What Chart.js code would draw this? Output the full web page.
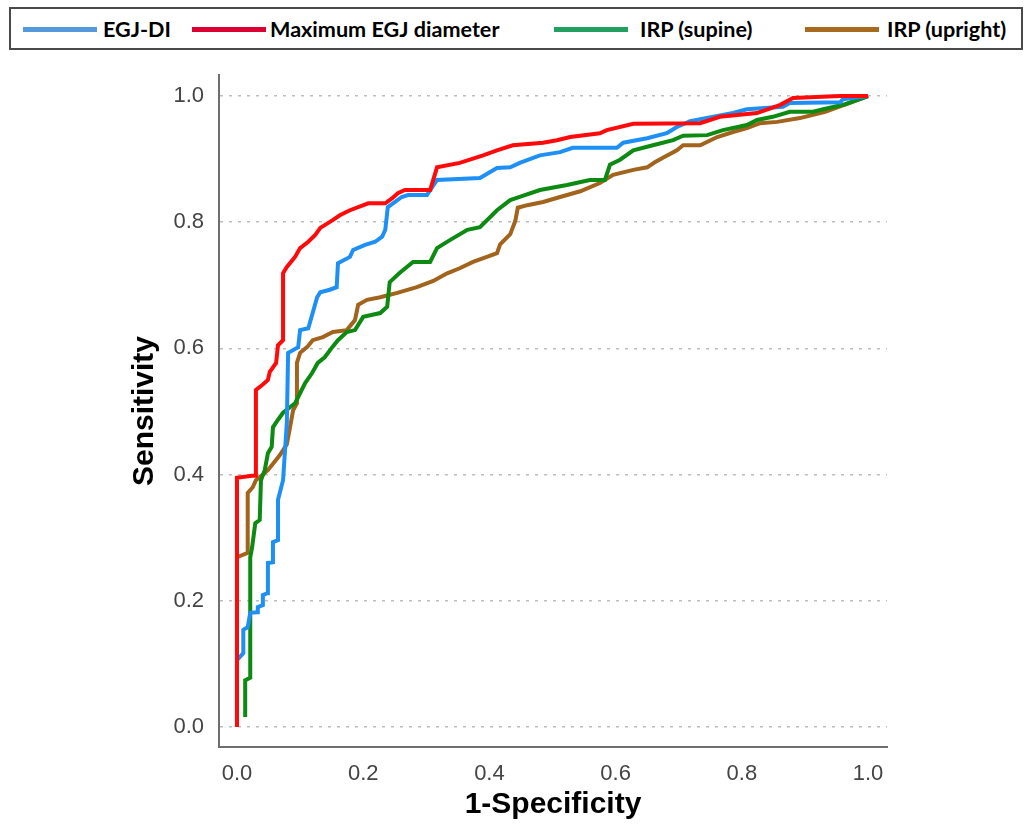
<!DOCTYPE html>
<html lang="en">

<head>
  <meta charset="UTF-8">
  <title>ROC | EGJ</title>
  <script src="https://cdn.jsdelivr.net/npm/chart.js"></script>
  <style>
    body { margin: 0; background: #fff; }
    #quadro { position: relative; width: 1032px; height: 825px; }
    #rocChart { position: absolute; left: 0; top: 0; }
    .legenda {
      position: absolute; left: 9px; top: 7px; width: 1014px; height: 43px;
      box-sizing: border-box; border: 2px solid #4a4a4a; background: #fff;
    }
    .legenda .linha { position: absolute; top: 18px; height: 5px; width: 74px; }
    .legenda .texto {
      position: absolute; top: 0; line-height: 41px; white-space: nowrap;
      font-family: Lato, "Open Sans", sans-serif; font-weight: bold; font-size: 21.6px; color: #000;
    }
  </style>
</head>

<body>
  <div id="quadro">
    <canvas id="rocChart" width="1032" height="825"></canvas>
    <div class="legenda">
      <span class="linha" style="left: 12px; background: #5599dd;"></span>
      <span class="texto" style="left: 92px;">EGJ-DI</span>
      <span class="linha" style="left: 181px; background: #dd0033;"></span>
      <span class="texto" style="left: 259px;">Maximum EGJ diameter</span>
      <span class="linha" style="left: 543px; background: #22a060;"></span>
      <span class="texto" style="left: 629px;">IRP (supine)</span>
      <span class="linha" style="left: 794px; background: #a86a1c;"></span>
      <span class="texto" style="left: 876px;">IRP (upright)</span>
    </div>
  </div>

<script>
  // valores dos ticks dos dois eixos
  const ticksEixo = [0.0, 0.2, 0.4, 0.6, 0.8, 1.0];

  // EGJ-DI (1-especificidade / sensibilidade)
  const egjDiX = [0, 0, 0.010, 0.010, 0.017, 0.021, 0.032, 0.033, 0.041, 0.041, 0.048, 0.049, 0.057, 0.057, 0.065, 0.065, 0.073, 0.079, 0.081, 0.097, 0.100, 0.113, 0.127, 0.132, 0.147, 0.158, 0.160, 0.179, 0.184, 0.203, 0.219, 0.230, 0.235, 0.239, 0.250, 0.261, 0.271, 0.301, 0.317, 0.385, 0.412, 0.433, 0.448, 0.480, 0.512, 0.532, 0.602, 0.612, 0.650, 0.681, 0.697, 0.718, 0.786, 0.808, 0.865, 0.876, 0.956, 0.960, 1.0];
  const egjDiY = [0, 0.106, 0.117, 0.154, 0.158, 0.181, 0.182, 0.190, 0.193, 0.209, 0.212, 0.260, 0.261, 0.293, 0.296, 0.360, 0.391, 0.482, 0.593, 0.602, 0.629, 0.632, 0.681, 0.689, 0.693, 0.697, 0.735, 0.745, 0.756, 0.764, 0.769, 0.777, 0.788, 0.824, 0.832, 0.840, 0.843, 0.843, 0.867, 0.870, 0.886, 0.887, 0.894, 0.906, 0.911, 0.918, 0.918, 0.926, 0.933, 0.941, 0.951, 0.960, 0.973, 0.979, 0.983, 0.989, 0.990, 0.995, 1.0];

  // Maximum EGJ diameter
  const diamMaxX = [0, 0, 0.024, 0.030, 0.030, 0.040, 0.049, 0.052, 0.062, 0.065, 0.073, 0.073, 0.079, 0.092, 0.100, 0.113, 0.124, 0.132, 0.151, 0.163, 0.179, 0.208, 0.235, 0.246, 0.255, 0.266, 0.306, 0.311, 0.317, 0.353, 0.390, 0.412, 0.437, 0.485, 0.507, 0.528, 0.575, 0.586, 0.628, 0.734, 0.765, 0.824, 0.861, 0.881, 0.956, 1.0];
  const diamMaxY = [0, 0.395, 0.398, 0.398, 0.534, 0.542, 0.550, 0.563, 0.577, 0.605, 0.613, 0.719, 0.729, 0.745, 0.759, 0.769, 0.780, 0.791, 0.803, 0.811, 0.819, 0.830, 0.830, 0.838, 0.846, 0.851, 0.851, 0.867, 0.887, 0.894, 0.906, 0.914, 0.922, 0.926, 0.930, 0.935, 0.941, 0.946, 0.956, 0.957, 0.967, 0.973, 0.986, 0.997, 1.0, 1.0];

  // IRP (supine)
  const irpSupinoX = [0.013, 0.013, 0.021, 0.021, 0.021, 0.024, 0.029, 0.036, 0.038, 0.044, 0.049, 0.055, 0.057, 0.065, 0.073, 0.092, 0.097, 0.108, 0.119, 0.128, 0.139, 0.151, 0.160, 0.174, 0.187, 0.200, 0.227, 0.238, 0.242, 0.258, 0.279, 0.306, 0.317, 0.338, 0.365, 0.385, 0.412, 0.433, 0.448, 0.480, 0.523, 0.559, 0.583, 0.591, 0.607, 0.628, 0.659, 0.691, 0.707, 0.745, 0.770, 0.808, 0.824, 0.849, 0.876, 0.913, 0.929, 0.964, 1.0];
  const irpSupinoY = [0.016, 0.074, 0.078, 0.151, 0.269, 0.285, 0.323, 0.328, 0.391, 0.407, 0.434, 0.444, 0.475, 0.487, 0.498, 0.513, 0.523, 0.545, 0.561, 0.577, 0.586, 0.602, 0.613, 0.626, 0.629, 0.650, 0.656, 0.666, 0.705, 0.720, 0.737, 0.737, 0.759, 0.772, 0.788, 0.792, 0.819, 0.835, 0.840, 0.851, 0.859, 0.867, 0.867, 0.891, 0.899, 0.914, 0.922, 0.930, 0.937, 0.938, 0.946, 0.954, 0.962, 0.967, 0.975, 0.975, 0.979, 0.987, 1.0];

  // IRP (upright)
  const irpEmPeX = [0, 0, 0.017, 0.017, 0.025, 0.030, 0.049, 0.068, 0.079, 0.084, 0.089, 0.095, 0.095, 0.100, 0.111, 0.120, 0.136, 0.152, 0.174, 0.187, 0.192, 0.206, 0.227, 0.254, 0.285, 0.311, 0.333, 0.353, 0.374, 0.396, 0.412, 0.417, 0.433, 0.441, 0.445, 0.460, 0.485, 0.512, 0.544, 0.575, 0.596, 0.628, 0.650, 0.662, 0.675, 0.697, 0.707, 0.734, 0.761, 0.786, 0.808, 0.829, 0.856, 0.892, 0.932, 1.0];
  const irpEmPeY = [0, 0.269, 0.276, 0.371, 0.380, 0.391, 0.407, 0.431, 0.448, 0.475, 0.502, 0.513, 0.577, 0.593, 0.602, 0.613, 0.618, 0.626, 0.629, 0.645, 0.669, 0.677, 0.681, 0.688, 0.697, 0.707, 0.719, 0.727, 0.737, 0.745, 0.751, 0.765, 0.781, 0.802, 0.823, 0.827, 0.832, 0.840, 0.849, 0.862, 0.875, 0.883, 0.887, 0.895, 0.902, 0.914, 0.922, 0.922, 0.935, 0.943, 0.949, 0.957, 0.959, 0.965, 0.975, 1.0];

  // junta x e y num array de pontos pro Chart.js
  function montarPontos(xs, ys) {
    return xs.map(function (x, i) {
      return { x: x, y: ys[i] };
    });
  }

  function criarSerie(nome, xs, ys, cor, ordem) {
    return {
      label: nome,
      data: montarPontos(xs, ys),
      borderColor: cor,
      borderWidth: 4,
      pointRadius: 0,
      tension: 0,
      fill: false,
      order: ordem
    };
  }

  const fonteEixo = { family: '"Liberation Sans", Arial, sans-serif', size: 22 };
  const fonteTitulo = { family: '"Liberation Sans", Arial, sans-serif', size: 30, weight: 'bold', lineHeight: 1.2 };

  const config = {
    type: 'line',
    data: {
      datasets: [
        criarSerie('Maximum EGJ diameter', diamMaxX, diamMaxY, '#ff0a0a', 0),
        criarSerie('EGJ-DI', egjDiX, egjDiY, '#1e90f5', 1),
        criarSerie('IRP (supine)', irpSupinoX, irpSupinoY, '#0c8a12', 2),
        criarSerie('IRP (upright)', irpEmPeX, irpEmPeY, '#a2631c', 3)
      ]
    },
    options: {
      responsive: false,
      animation: false,
      devicePixelRatio: 1,
      layout: { padding: { left: 0, top: 75, right: 145, bottom: 0 } },
      plugins: {
        legend: { display: false },
        tooltip: { enabled: false }
      },
      scales: {
        x: {
          type: 'linear',
          min: -0.0285,
          max: 1.03,
          afterBuildTicks: function (eixo) {
            eixo.ticks = ticksEixo.map(function (v) { return { value: v }; });
          },
          afterFit: function (eixo) { eixo.height = 78; },
          grid: { drawOnChartArea: false, drawTicks: false },
          border: { display: true, color: '#6e6e6e', width: 2 },
          ticks: {
            callback: function (v) { return v.toFixed(1); },
            font: fonteEixo,
            color: '#444',
            padding: 14,
            maxRotation: 0,
            autoSkip: false
          },
          title: {
            display: true,
            text: '1-Specificity',
            font: fonteTitulo,
            color: '#000',
            padding: { top: 0, bottom: 2 }
          }
        },
        y: {
          type: 'linear',
          min: -0.0317,
          max: 1.0333,
          afterBuildTicks: function (eixo) {
            eixo.ticks = ticksEixo.map(function (v) { return { value: v }; });
          },
          afterFit: function (eixo) { eixo.width = 219; },
          grid: { color: '#bdbdbd', lineWidth: 1.5, drawTicks: false },
          border: { display: true, color: '#6e6e6e', width: 2, dash: [3, 6] },
          ticks: {
            callback: function (v) { return v.toFixed(1); },
            font: fonteEixo,
            color: '#444',
            padding: 15,
            autoSkip: false
          },
          title: {
            display: true,
            text: 'Sensitivity',
            font: fonteTitulo,
            color: '#000',
            padding: { top: 127, bottom: 0 }
          }
        }
      }
    }
  };

  window.onload = () => {
    new Chart(document.getElementById('rocChart'), config);
  };
</script>
</body>

</html>
